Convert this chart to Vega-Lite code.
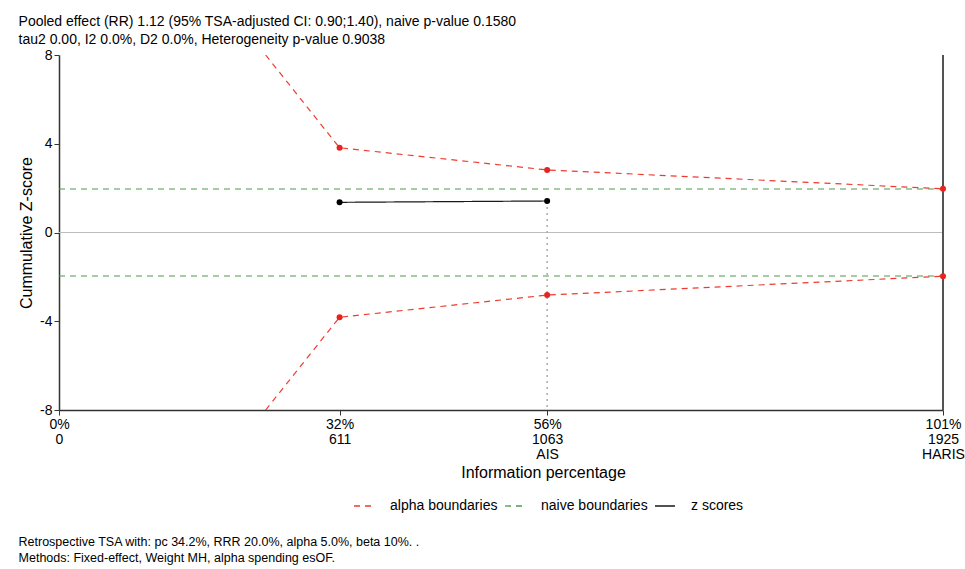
{
  "$schema": "https://vega.github.io/schema/vega-lite/v6.json",
  "padding": {"left": 18, "top": 15, "right": 0, "bottom": 4},
  "background": "white",
  "title": {
    "text": ["Pooled effect (RR) 1.12 (95% TSA-adjusted CI: 0.90;1.40), naive p-value 0.1580", "tau2 0.00, I2 0.0%, D2 0.0%, Heterogeneity p-value 0.9038"],
    "anchor": "start",
    "frame": "bounds",
    "fontSize": 14,
    "fontWeight": "normal",
    "lineHeight": 18,
    "color": "#000000",
    "offset": 1
  },
  "datasets": {
    "tsa": [
      {"series": "alpha boundaries", "part": "upper", "n": 450, "z": 8},
      {"series": "alpha boundaries", "part": "upper", "n": 611, "z": 3.82},
      {"series": "alpha boundaries", "part": "upper", "n": 1063, "z": 2.82},
      {"series": "alpha boundaries", "part": "upper", "n": 1925, "z": 1.97},
      {"series": "alpha boundaries", "part": "lower", "n": 450, "z": -8},
      {"series": "alpha boundaries", "part": "lower", "n": 611, "z": -3.82},
      {"series": "alpha boundaries", "part": "lower", "n": 1063, "z": -2.82},
      {"series": "alpha boundaries", "part": "lower", "n": 1925, "z": -1.97},
      {"series": "naive boundaries", "part": "upper", "n": 0, "z": 1.96},
      {"series": "naive boundaries", "part": "upper", "n": 1925, "z": 1.96},
      {"series": "naive boundaries", "part": "lower", "n": 0, "z": -1.96},
      {"series": "naive boundaries", "part": "lower", "n": 1925, "z": -1.96},
      {"series": "z scores", "part": "z", "n": 611, "z": 1.36},
      {"series": "z scores", "part": "z", "n": 1063, "z": 1.42}
    ]
  },
  "vconcat": [
    {
      "width": 884,
      "height": 355,
      "title": {
        "text": ["Retrospective TSA with: pc 34.2%, RRR 20.0%, alpha 5.0%, beta 10%. .", "Methods: Fixed-effect, Weight MH, alpha spending esOF."],
        "orient": "bottom",
        "anchor": "start",
        "frame": "bounds",
        "fontSize": 12.5,
        "fontWeight": "normal",
        "lineHeight": 16,
        "color": "#000000",
        "offset": 56
      },
      "data": {"name": "tsa"},
      "layer": [
        {
          "mark": {"type": "rule", "color": "#bdbdbd", "strokeWidth": 1.2},
          "encoding": {"y": {"datum": 0, "type": "quantitative", "scale": {"domain": [-8, 8], "nice": false}}}
        },
        {
          "mark": {"type": "line", "strokeWidth": 1.2, "clip": true},
          "encoding": {
            "x": {
              "field": "n", "type": "quantitative",
              "scale": {"domain": [0, 1925], "nice": false, "zero": true},
              "axis": {
                "values": [0, 611, 1063, 1925],
                "labelExpr": "datum.value == 0 ? ['0%', '0'] : datum.value == 611 ? ['32%', '611'] : datum.value == 1063 ? ['56%', '1063', 'AIS'] : ['101%', '1925', 'HARIS']",
                "grid": false,
                "tickSize": 5,
                "tickColor": "#333333",
                "domainColor": "#333333",
                "domainWidth": 1.5,
                "labelColor": "#000000",
                "labelFontSize": 14,
                "labelLineHeight": 15,
                "labelPadding": 2,
                "labelBound": false,
                "labelFlush": false,
                "labelOverlap": false,
                "title": "Information percentage",
                "titleFontSize": 16,
                "titleFontWeight": "normal",
                "titleColor": "#000000",
                "titleX": 484,
                "titlePadding": 3
              }
            },
            "y": {
              "field": "z", "type": "quantitative",
              "scale": {"domain": [-8, 8], "nice": false},
              "axis": {
                "values": [-8, -4, 0, 4, 8],
                "labelExpr": "toString(datum.value)",
                "grid": false,
                "tickSize": 5,
                "tickColor": "#333333",
                "domainColor": "#333333",
                "domainWidth": 1.5,
                "labelColor": "#000000",
                "labelFontSize": 14,
                "labelPadding": 2,
                "title": "Cummulative Z-score",
                "titleFontSize": 16,
                "titleFontWeight": "normal",
                "titleColor": "#000000",
                "titlePadding": 5
              }
            },
            "detail": {"field": "part"},
            "color": {
              "field": "series", "type": "nominal",
              "scale": {"domain": ["alpha boundaries", "naive boundaries", "z scores"], "range": ["#ee3b30", "#4e9a4e", "#1a1a1a"]},
              "legend": {
                "title": null,
                "orient": "none",
                "legendX": 294,
                "legendY": 440,
                "direction": "horizontal",
                "symbolType": "stroke",
                "symbolSize": 400,
                "symbolStrokeWidth": 1.3,
                "labelFontSize": 14,
                "labelColor": "#000000",
                "labelOffset": 15,
                "columnPadding": 4
              }
            },
            "strokeDash": {
              "field": "series", "type": "nominal",
              "scale": {"domain": ["alpha boundaries", "naive boundaries", "z scores"], "range": [[6, 5], [6, 5], [1, 0]]},
              "legend": {
                "title": null,
                "orient": "none",
                "legendX": 294,
                "legendY": 440,
                "direction": "horizontal",
                "symbolType": "stroke",
                "symbolSize": 400,
                "labelFontSize": 14,
                "labelOffset": 15,
                "columnPadding": 4
              }
            }
          }
        },
        {
          "transform": [{"filter": "datum.series == 'z scores' && datum.n == 1063"}],
          "mark": {"type": "rule", "color": "#aaaaaa", "strokeWidth": 1.5, "strokeDash": [2, 4]},
          "encoding": {
            "x": {"field": "n", "type": "quantitative"},
            "y": {"field": "z", "type": "quantitative"},
            "y2": {"datum": -8}
          }
        },
        {
          "mark": {"type": "rule", "color": "#555555", "strokeWidth": 1.5},
          "encoding": {"x": {"datum": 1925, "type": "quantitative"}}
        },
        {
          "transform": [{"filter": "datum.series == 'alpha boundaries' && abs(datum.z) < 8"}],
          "mark": {"type": "point", "filled": true, "color": "#e8231f", "size": 36, "opacity": 1},
          "encoding": {
            "x": {"field": "n", "type": "quantitative"},
            "y": {"field": "z", "type": "quantitative"}
          }
        },
        {
          "transform": [{"filter": "datum.series == 'z scores'"}],
          "mark": {"type": "point", "filled": true, "color": "#000000", "size": 36, "opacity": 1},
          "encoding": {
            "x": {"field": "n", "type": "quantitative"},
            "y": {"field": "z", "type": "quantitative"}
          }
        }
      ]
    }
  ],
  "config": {
    "font": "Liberation Sans",
    "view": {"stroke": null},
    "axisX": {"orient": "bottom"},
    "axisY": {"orient": "left"}
  }
}
